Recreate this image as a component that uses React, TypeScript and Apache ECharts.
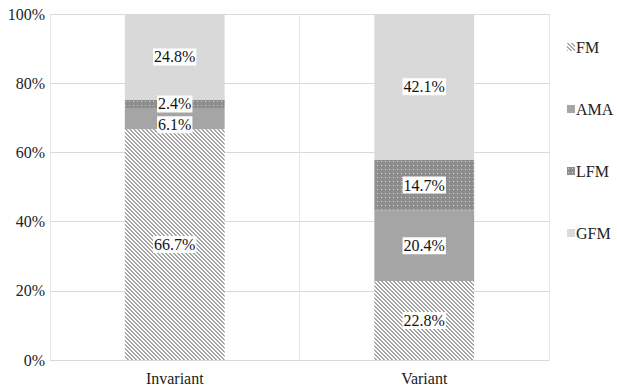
import React, { useEffect, useRef } from "react";
import * as echarts from "echarts";

const categories = ["Invariant", "Variant"];
const seriesNames = ["FM", "AMA", "LFM", "GFM"];
const fmValues = [66.7, 22.8];
const amaValues = [6.1, 20.4];
const lfmValues = [2.4, 14.7];
const gfmValues = [24.8, 42.1];
const yTicks = [0, 20, 40, 60, 80, 100];

function makeStripes() {
  const c = document.createElement("canvas");
  c.width = 4;
  c.height = 4;
  const ctx = c.getContext("2d")!;
  ctx.fillStyle = "#ffffff";
  ctx.fillRect(0, 0, 4, 4);
  ctx.fillStyle = "#a6a6a6";
  for (let y = 0; y < 4; y++) {
    for (let x = 0; x < 4; x++) {
      const d = (((x - y) % 4) + 4) % 4;
      if (d === 0 || d === 1) ctx.fillRect(x, y, 1, 1);
    }
  }
  return c;
}

function makeDots() {
  const c = document.createElement("canvas");
  c.width = 4;
  c.height = 4;
  const ctx = c.getContext("2d")!;
  ctx.fillStyle = "#8e8e8e";
  ctx.fillRect(0, 0, 4, 4);
  ctx.fillStyle = "#d4d4d4";
  ctx.fillRect(1, 1, 1, 1);
  return c;
}

export default function App() {
  const ref = useRef<HTMLDivElement>(null);
  useEffect(() => {
    if (!ref.current) return;
    const chart = echarts.init(ref.current, null, { renderer: "svg" });
    const font = "Times New Roman";
    const stripes = { image: makeStripes(), repeat: "repeat", imageWidth: 4, imageHeight: 4 } as any;
    const dots = { image: makeDots(), repeat: "repeat", imageWidth: 4, imageHeight: 4 } as any;
    const colors = [stripes, "#a5a5a5", dots, "#d9d9d9"];
    const values = [fmValues, amaValues, lfmValues, gfmValues];
    chart.setOption({
      animation: false,
      grid: { left: 50, right: 68, top: 14, bottom: 32 },
      legend: {
        orient: "vertical",
        left: 562,
        top: 34,
        itemWidth: 8,
        itemHeight: 8,
        itemGap: 46,
        icon: "rect",
        textStyle: { fontFamily: font, fontSize: 16, color: "#222", padding: [0, 0, 0, -4] },
        data: seriesNames,
      },
      xAxis: {
        type: "category",
        data: categories,
        axisLine: { lineStyle: { color: "#d9d9d9" } },
        axisTick: { show: false },
        splitLine: { show: true, lineStyle: { color: "#e6e6e6" } },
        axisLabel: { fontFamily: font, fontSize: 16, color: "#222", margin: 10 },
      },
      yAxis: {
        type: "value",
        min: yTicks[0],
        max: yTicks[yTicks.length - 1],
        interval: 20,
        axisLine: { show: false },
        axisTick: { show: false },
        splitLine: { lineStyle: { color: "#d9d9d9" } },
        axisLabel: { fontFamily: font, fontSize: 16, color: "#222", formatter: "{value}%", margin: 5 },
      },
      series: seriesNames.map((name, i) => ({
        name,
        type: "bar",
        stack: "total",
        barWidth: "40%",
        data: values[i].map((v, j) =>
          name === "AMA" && j === 0 ? { value: v, label: { offset: [0, 6] } } : v
        ),
        itemStyle: { color: colors[i] },
        label: {
          show: true,
          position: "inside",
          formatter: (p: any) => p.value.toFixed(1) + "%",
          fontFamily: font,
          fontSize: 16,
          lineHeight: 16,
          color: "#111",
          backgroundColor: "#ffffff",
          padding: [1, 1, 0, 1],
        },
      })),
    });
    return () => chart.dispose();
  }, []);
  return <div ref={ref} style={{ width: 617, height: 392, position: "absolute", left: 0, top: 0 }} />;
}
